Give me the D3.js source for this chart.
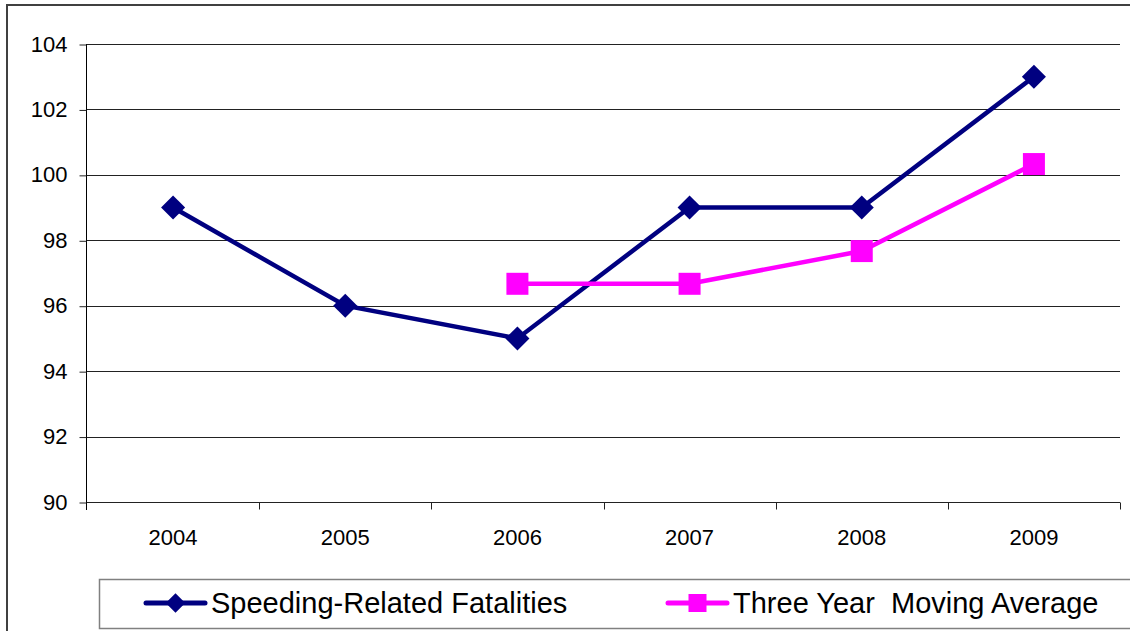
<!DOCTYPE html>
<html>
<head>
<meta charset="utf-8">
<script src="https://cdn.jsdelivr.net/npm/d3@7"></script>
<style>
  body { margin: 0; background: #fff; }
  svg { display: block; font-family: "Liberation Sans", Arial, sans-serif; }
  text { white-space: pre; }
</style>
</head>
<body>
<svg id="chart" width="1130" height="631"></svg>
<script>
// chart data
var years = ["2004", "2005", "2006", "2007", "2008", "2009"];
var speeding = [99, 96, 95, 99, 99, 103];
var movingAvg = [null, null, 96.67, 96.67, 97.67, 100.33];
var yTicks = [90, 92, 94, 96, 98, 100, 102, 104];
var seriesNames = ["Speeding-Related Fatalities", "Three Year  Moving Average"];

var svg = d3.select("#chart");
var pLeft = 87, pRight = 1120, pTop = 44, pBottom = 502;

// outer frame (runs off the right and bottom edge)
svg.append("rect")
    .attr("x", 7).attr("y", 5)
    .attr("width", 1140).attr("height", 640)
    .attr("fill", "none").attr("stroke", "#404040").attr("stroke-width", 2);

var x = d3.scaleBand().domain(years).range([pLeft, pRight]);
var y = d3.scaleLinear().domain([90, 104]).range([pBottom, pTop]);

// gridlines
svg.append("g").selectAll("line").data(yTicks).enter().append("line")
    .attr("x1", pLeft).attr("x2", pRight)
    .attr("y1", function(d) { return Math.round(y(d)) + 0.5; })
    .attr("y2", function(d) { return Math.round(y(d)) + 0.5; })
    .attr("stroke", "#222").attr("stroke-width", 1);

// y axis
var yAxis = d3.axisLeft(y).tickValues(yTicks).tickSize(7).tickPadding(12);
var gy = svg.append("g").attr("transform", "translate(" + (pLeft - 0.5) + ",0)").call(yAxis);
gy.select(".domain").attr("stroke", "#000").attr("d", "M0," + pTop + "V" + (pBottom + 8));
gy.selectAll(".tick line").attr("stroke", "#222")
    .attr("transform", "translate(0,0.5)");
gy.selectAll("text").attr("font-size", 22).attr("fill", "#000")
    .attr("font-family", "'Liberation Sans', Arial, sans-serif");

// x axis: category labels and boundary ticks
var gx = svg.append("g").attr("transform", "translate(0," + (pBottom + 0.5) + ")");
var bounds = years.map(function(d) { return x(d) + x.bandwidth(); });
gx.selectAll("line").data(bounds).enter().append("line")
    .attr("x1", function(d) { return Math.round(d) + 0.5; })
    .attr("x2", function(d) { return Math.round(d) + 0.5; })
    .attr("y1", 0).attr("y2", 7).attr("stroke", "#222");
gx.selectAll("text").data(years).enter().append("text")
    .attr("x", function(d) { return x(d) + x.bandwidth() / 2; })
    .attr("y", 42)
    .attr("text-anchor", "middle").attr("font-size", 22).attr("fill", "#000")
    .text(function(d) { return d; });

function cx(i) { return x(years[i]) + x.bandwidth() / 2; }

var navy = "#000080", pink = "#ff00ff";
var diamond = d3.symbol().type(d3.symbolSquare).size(290);

var line = d3.line()
    .defined(function(d) { return d != null; })
    .x(function(d, i) { return cx(i); })
    .y(function(d) { return y(d); });

svg.append("path").datum(speeding).attr("d", line)
    .attr("fill", "none").attr("stroke", navy).attr("stroke-width", 4.5);
svg.append("path").datum(movingAvg).attr("d", line)
    .attr("fill", "none").attr("stroke", pink).attr("stroke-width", 4.5);

svg.append("g").selectAll("path").data(speeding).enter().append("path")
    .attr("d", diamond)
    .attr("transform", function(d, i) { return "translate(" + cx(i) + "," + y(d) + ") rotate(45)"; })
    .attr("fill", navy);

var avgPts = movingAvg.map(function(v, i) { return { i: i, v: v }; })
    .filter(function(p) { return p.v != null; });
svg.append("g").selectAll("rect").data(avgPts).enter().append("rect")
    .attr("x", function(p) { return cx(p.i) - 11; })
    .attr("y", function(p) { return y(p.v) - 11; })
    .attr("width", 22).attr("height", 22)
    .attr("fill", pink);

// legend (box runs off the right edge)
var lg = svg.append("g");
lg.append("rect").attr("x", 99.5).attr("y", 579.5).attr("width", 1040).attr("height", 49)
    .attr("fill", "#fff").attr("stroke", "#808080").attr("stroke-width", 1.5);

var items = [
    { name: seriesNames[0], color: navy, x0: 146, x1: 205, tx: 211, marker: "diamond" },
    { name: seriesNames[1], color: pink, x0: 668, x1: 727, tx: 733, marker: "square" }
];
items.forEach(function(it) {
    var ly = 603;
    lg.append("line").attr("x1", it.x0).attr("x2", it.x1).attr("y1", ly).attr("y2", ly)
        .attr("stroke", it.color).attr("stroke-width", 5).attr("stroke-linecap", "round");
    if (it.marker === "diamond") {
        lg.append("path").attr("d", d3.symbol().type(d3.symbolSquare).size(190))
            .attr("transform", "translate(" + ((it.x0 + it.x1) / 2) + "," + ly + ") rotate(45)")
            .attr("fill", it.color);
    } else {
        lg.append("rect").attr("x", (it.x0 + it.x1) / 2 - 9).attr("y", ly - 9)
            .attr("width", 18).attr("height", 18).attr("fill", it.color);
    }
    lg.append("text").attr("x", it.tx).attr("y", 613)
        .attr("font-size", 29).attr("fill", "#000").text(it.name);
});
</script>
</body>
</html>
